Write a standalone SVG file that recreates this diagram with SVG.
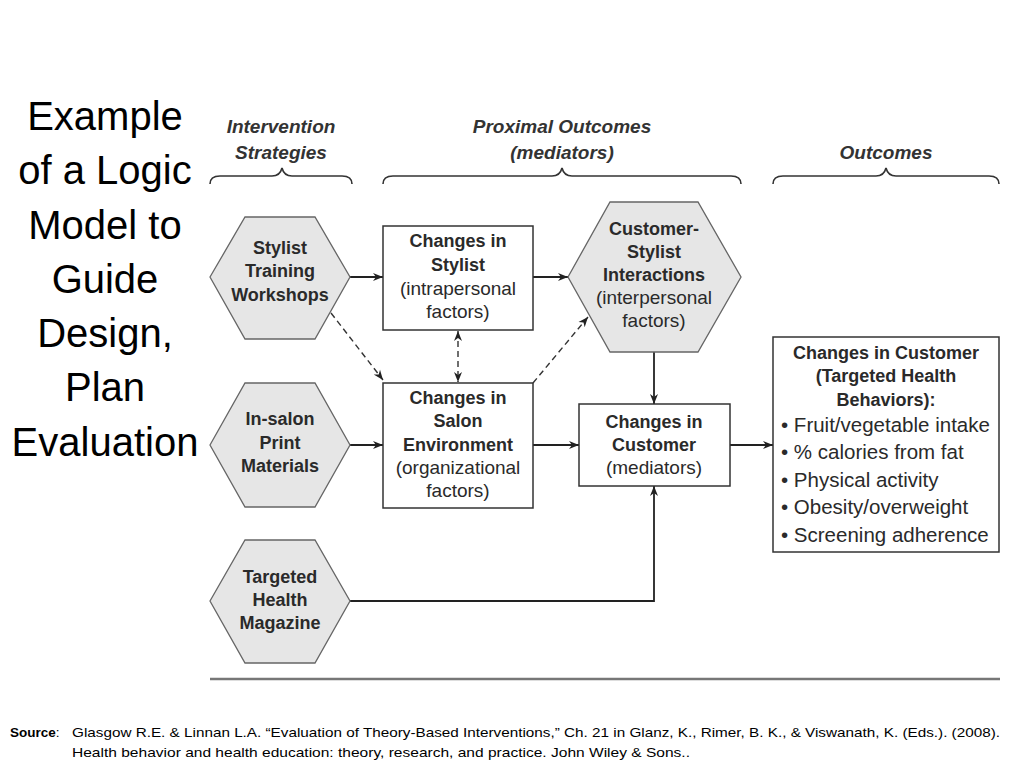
<svg xmlns="http://www.w3.org/2000/svg" width="1024" height="768" viewBox="0 0 1024 768">
<style>
.title{font-family:"Liberation Sans",Arial,sans-serif;font-size:40px;fill:#000;text-anchor:middle}
.hdr{font-family:"Liberation Sans",Arial,sans-serif;font-size:19px;font-style:italic;font-weight:bold;fill:#333;text-anchor:middle}
.b{font-family:"Liberation Sans",Arial,sans-serif;font-size:18px;font-weight:bold;fill:#2a2a2a;text-anchor:middle}
.r{font-family:"Liberation Sans",Arial,sans-serif;font-size:19px;fill:#2a2a2a;text-anchor:middle}
.rl{font-family:"Liberation Sans",Arial,sans-serif;font-size:20.5px;fill:#2a2a2a}
.src{font-family:"Liberation Sans",Arial,sans-serif;font-size:13.5px;fill:#000}
.hex{fill:#e6e6e6;stroke:#666;stroke-width:1.3}
.box{fill:#fff;stroke:#333;stroke-width:1.5}
.brace{fill:none;stroke:#333;stroke-width:1.6}
.ln{fill:none;stroke:#222;stroke-width:1.8}
.dash{fill:none;stroke:#333;stroke-width:1.4;stroke-dasharray:6,4}
</style>
<defs>
<marker id="ah" viewBox="0 0 10 10" refX="10" refY="5" markerWidth="10" markerHeight="10" markerUnits="userSpaceOnUse" orient="auto">
<path d="M0,1 L10,5 L0,9 L3,5 Z" fill="#222"/>
</marker>
<marker id="ahs" viewBox="0 0 10 10" refX="10" refY="5" markerWidth="10" markerHeight="10" markerUnits="userSpaceOnUse" orient="auto-start-reverse">
<path d="M0,1 L10,5 L0,9 L3,5 Z" fill="#222"/>
</marker>
</defs>
<rect width="1024" height="768" fill="#fff"/>

<g id="title">
<text class="title" x="105" y="130">Example</text>
<text class="title" x="105" y="184">of a Logic</text>
<text class="title" x="105" y="239">Model to</text>
<text class="title" x="105" y="293">Guide</text>
<text class="title" x="105" y="347">Design,</text>
<text class="title" x="105" y="401">Plan</text>
<text class="title" x="105" y="456">Evaluation</text>
</g>

<g id="headers">
<text class="hdr" x="281" y="133">Intervention</text>
<text class="hdr" x="281" y="159">Strategies</text>
<text class="hdr" x="562" y="133">Proximal Outcomes</text>
<text class="hdr" x="562" y="159">(mediators)</text>
<text class="hdr" x="886" y="159">Outcomes</text>
<path class="brace" d="M210,184 Q210,176 220,176 L272,176 Q280,176 282,168 Q284,176 292,176 L342,176 Q352,176 352,184"/>
<path class="brace" d="M383,184 Q383,176 393,176 L552,176 Q560,176 562,168 Q564,176 572,176 L731,176 Q741,176 741,184"/>
<path class="brace" d="M773,184 Q773,176 783,176 L876,176 Q884,176 886,168 Q888,176 896,176 L989,176 Q999,176 999,184"/>
</g>

<g id="connectors">
<line class="ln" x1="350" y1="277" x2="383" y2="277" marker-end="url(#ah)"/>
<line class="ln" x1="533" y1="277" x2="568" y2="277" marker-end="url(#ah)"/>
<line class="ln" x1="350" y1="445" x2="383" y2="445" marker-end="url(#ah)"/>
<line class="ln" x1="533" y1="445" x2="579" y2="445" marker-end="url(#ah)"/>
<line class="ln" x1="730" y1="445" x2="773" y2="445" marker-end="url(#ah)"/>
<line class="ln" x1="654" y1="352" x2="654" y2="404" marker-end="url(#ah)"/>
<polyline class="ln" points="350,601 654,601 654,486" marker-end="url(#ah)"/>
<line class="dash" x1="331" y1="313" x2="383" y2="380" marker-end="url(#ah)"/>
<line class="dash" x1="458" y1="331" x2="458" y2="382" marker-start="url(#ahs)" marker-end="url(#ahs)"/>
<line class="dash" x1="533" y1="383" x2="588" y2="317" marker-end="url(#ah)"/>
</g>

<g id="stylist-training">
<polygon class="hex" points="210,277 245,217 315,217 350,277 315,339 245,339"/>
<text class="b" x="280" y="254">Stylist</text>
<text class="b" x="280" y="277">Training</text>
<text class="b" x="280" y="301">Workshops</text>
</g>

<g id="in-salon-print">
<polygon class="hex" points="210,445 245,383 315,383 350,445 315,507 245,507"/>
<text class="b" x="280" y="425">In-salon</text>
<text class="b" x="280" y="449">Print</text>
<text class="b" x="280" y="472">Materials</text>
</g>

<g id="targeted-magazine">
<polygon class="hex" points="210,601 245,540 315,540 350,601 315,663 245,663"/>
<text class="b" x="280" y="583">Targeted</text>
<text class="b" x="280" y="606">Health</text>
<text class="b" x="280" y="629">Magazine</text>
</g>

<g id="changes-stylist">
<rect class="box" x="383" y="226" width="150" height="104"/>
<text class="b" x="458" y="247">Changes in</text>
<text class="b" x="458" y="271">Stylist</text>
<text class="r" x="458" y="295">(intrapersonal</text>
<text class="r" x="458" y="318">factors)</text>
</g>

<g id="changes-salon">
<rect class="box" x="383" y="383" width="150" height="125"/>
<text class="b" x="458" y="404">Changes in</text>
<text class="b" x="458" y="427">Salon</text>
<text class="b" x="458" y="451">Environment</text>
<text class="r" x="458" y="474">(organizational</text>
<text class="r" x="458" y="497">factors)</text>
</g>

<g id="customer-stylist">
<polygon class="hex" points="568,277 610,202 698,202 741,277 698,352 610,352"/>
<text class="b" x="654" y="235">Customer-</text>
<text class="b" x="654" y="258">Stylist</text>
<text class="b" x="654" y="281">Interactions</text>
<text class="r" x="654" y="304">(interpersonal</text>
<text class="r" x="654" y="327">factors)</text>
</g>

<g id="changes-customer">
<rect class="box" x="579" y="404" width="151" height="82"/>
<text class="b" x="654" y="428">Changes in</text>
<text class="b" x="654" y="451">Customer</text>
<text class="r" x="654" y="474">(mediators)</text>
</g>

<g id="outcomes">
<rect class="box" x="773" y="337" width="226" height="215"/>
<text class="b" x="886" y="359">Changes in Customer</text>
<text class="b" x="886" y="382">(Targeted Health</text>
<text class="b" x="886" y="406">Behaviors):</text>
<text class="rl" x="781" y="432">• Fruit/vegetable intake</text>
<text class="rl" x="781" y="459">• % calories from fat</text>
<text class="rl" x="781" y="487">• Physical activity</text>
<text class="rl" x="781" y="514">• Obesity/overweight</text>
<text class="rl" x="781" y="542">• Screening adherence</text>
</g>

<line x1="210" y1="679" x2="1000" y2="679" stroke="#777" stroke-width="2.5"/>

<g id="source">
<text class="src" x="10" y="737" font-size="14.5px"><tspan font-weight="bold">Source</tspan>:</text>
<text class="src" x="72" y="737" textLength="928" lengthAdjust="spacingAndGlyphs">Glasgow R.E. &amp;  Linnan L.A. “Evaluation of Theory-Based Interventions,” Ch. 21  in Glanz, K., Rimer, B. K., &amp; Viswanath, K. (Eds.). (2008).</text>
<text class="src" x="72" y="757" textLength="618" lengthAdjust="spacingAndGlyphs">Health behavior and health education: theory, research, and practice. John Wiley &amp; Sons..</text>
</g>
</svg>
